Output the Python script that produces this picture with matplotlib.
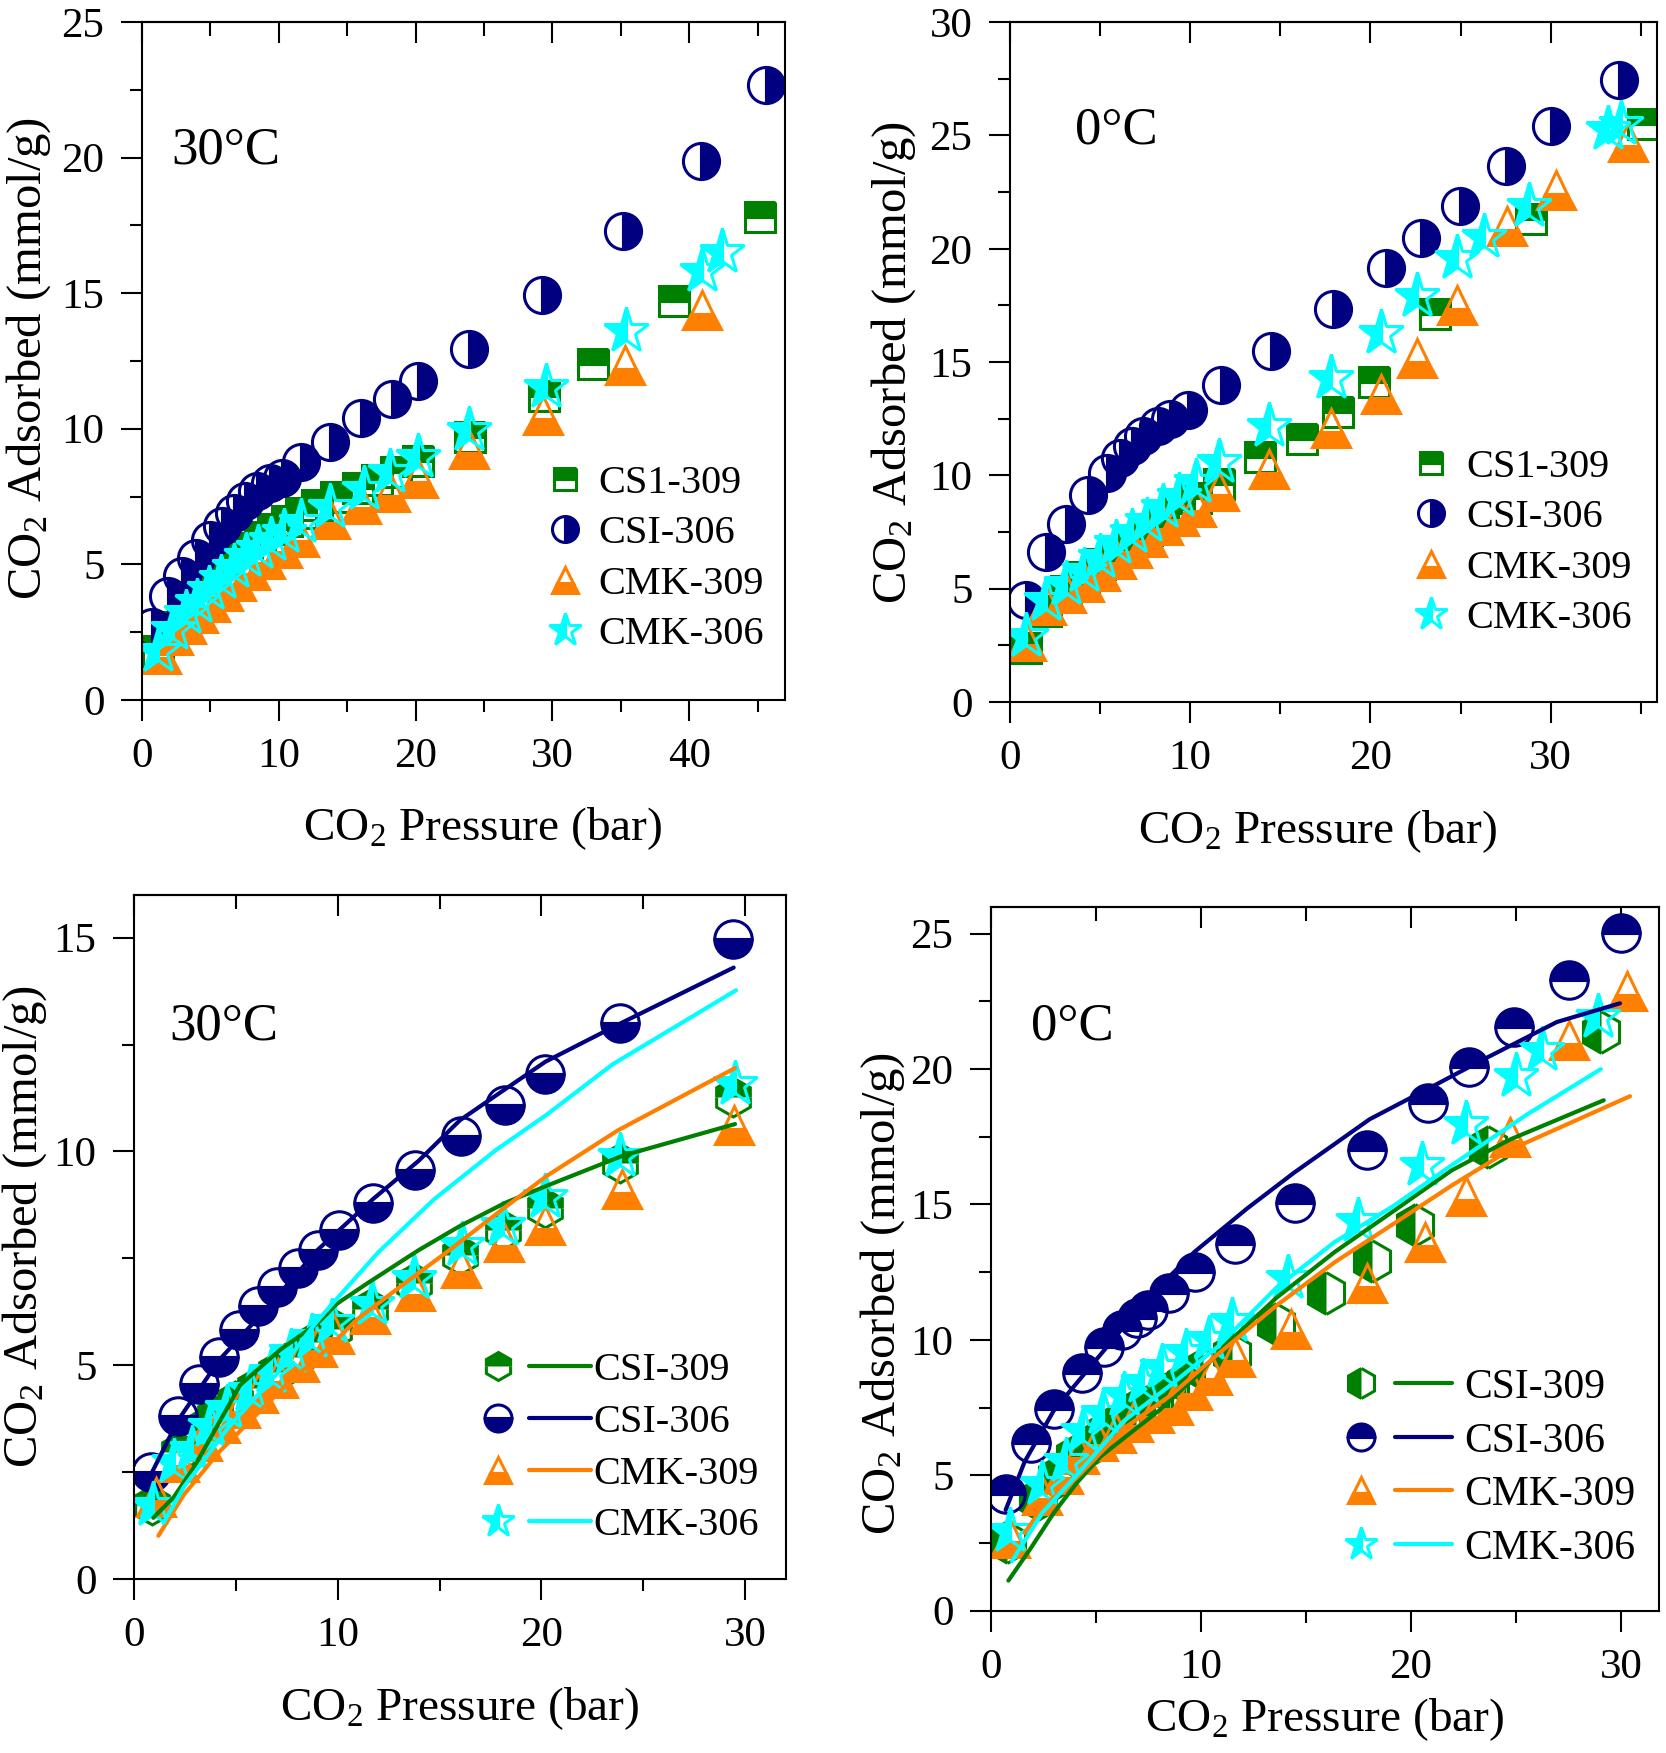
import numpy as np
import matplotlib.pyplot as plt
from matplotlib.ticker import MultipleLocator
from matplotlib.legend_handler import HandlerTuple

plt.rcParams['font.family'] = 'Liberation Serif'
plt.rcParams['mathtext.fontset'] = 'custom'
plt.rcParams['mathtext.rm'] = 'Liberation Serif'
plt.rcParams['mathtext.it'] = 'Liberation Serif:italic'

GREEN = '#008000'
NAVY = '#000080'
ORANGE = '#FF8000'
CYAN = '#00FFFF'

# ---- top left, 30 C ----
tl_cs309_x = [1.2, 2.2, 3.1, 4.0, 5.0, 5.9, 6.8, 7.7, 8.6, 9.6, 10.6, 11.6, 12.8, 14.2, 15.8, 17.2, 18.6, 20.2, 24.0, 29.4, 33.0, 38.9, 45.2]
tl_cs309_y = [1.8, 2.7, 3.2, 3.8, 4.3, 4.8, 5.2, 5.6, 6.0, 6.3, 6.6, 6.9, 7.2, 7.5, 7.8, 8.1, 8.4, 8.8, 9.7, 11.2, 12.4, 14.7, 17.8]
tl_csi306_x = [0.73, 1.92, 2.9, 3.95, 5.0, 5.88, 6.75, 7.52, 8.43, 9.38, 10.25, 11.65, 13.75, 16.03, 18.3, 20.16, 23.9, 29.26, 35.17, 40.87, 45.6]
tl_csi306_y = [2.68, 3.82, 4.56, 5.25, 5.88, 6.43, 6.91, 7.35, 7.71, 8.0, 8.2, 8.78, 9.52, 10.38, 11.11, 11.77, 12.95, 14.93, 17.28, 19.89, 22.66]
tl_cmk309_x = [1.4, 2.3, 3.2, 4.1, 5.0, 5.9, 6.9, 7.9, 9.0, 10.2, 11.5, 13.75, 16.0, 18.1, 20.16, 23.9, 29.3, 35.3, 40.9]
tl_cmk309_y = [1.7, 2.4, 2.8, 3.2, 3.6, 4.0, 4.4, 4.8, 5.2, 5.6, 6.0, 6.67, 7.22, 7.68, 8.19, 9.24, 10.5, 12.36, 14.38]
tl_cmk306_x = [1.2, 2.3, 3.2, 4.0, 4.9, 5.8, 6.7, 7.6, 8.5, 9.4, 10.4, 11.65, 13.75, 16.2, 18.1, 20.16, 23.9, 29.5, 35.4, 40.9, 42.4]
tl_cmk306_y = [1.8, 2.6, 3.2, 3.6, 4.1, 4.5, 4.9, 5.3, 5.6, 5.9, 6.2, 6.58, 7.13, 7.77, 8.41, 8.96, 9.97, 11.54, 13.6, 15.8, 16.5]

# ---- top right, 0 C ----
tr_cs309_x = [0.9, 2.0, 3.1, 4.1, 5.0, 5.9, 6.8, 7.6, 8.5, 9.4, 10.3, 11.6, 13.9, 16.2, 18.2, 20.2, 23.6, 28.9, 35.1]
tr_cs309_y = [2.4, 4.0, 4.9, 5.5, 6.1, 6.6, 7.1, 7.6, 8.0, 8.5, 9.0, 9.6, 10.8, 11.6, 12.8, 14.1, 17.1, 21.3, 25.5]
tr_csi306_x = [0.87, 1.98, 3.1, 4.34, 5.4, 6.1, 6.8, 7.4, 8.2, 8.9, 9.9, 11.7, 14.5, 17.93, 20.84, 22.83, 24.96, 27.5, 30.04, 33.8]
tr_csi306_y = [4.49, 6.61, 7.84, 9.13, 10.1, 10.75, 11.3, 11.75, 12.2, 12.5, 12.9, 14.0, 15.5, 17.33, 19.14, 20.46, 21.89, 23.67, 25.42, 27.45]
tr_cmk309_x = [0.9, 2.0, 3.1, 4.1, 5.0, 5.9, 6.8, 7.6, 8.5, 9.4, 10.3, 11.6, 14.4, 17.8, 20.6, 22.6, 24.8, 27.6, 30.3, 34.3]
tr_cmk309_y = [2.7, 4.3, 4.8, 5.3, 5.8, 6.3, 6.8, 7.3, 7.8, 8.2, 8.6, 9.3, 10.3, 12.1, 13.6, 15.2, 17.5, 21.0, 22.6, 24.7]
tr_cmk306_x = [0.9, 2.0, 3.1, 4.1, 5.0, 5.9, 6.8, 7.6, 8.5, 9.4, 10.3, 11.6, 14.4, 17.8, 20.6, 22.6, 24.8, 26.3, 28.8, 33.2, 33.9]
tr_cmk306_y = [2.9, 4.5, 5.2, 5.8, 6.4, 7.0, 7.5, 8.0, 8.6, 9.1, 9.7, 10.6, 12.2, 14.3, 16.3, 17.9, 19.6, 20.5, 21.9, 25.3, 25.5]

# ---- bottom left, 30 C with fits ----
bl_csi309_x = [0.9, 2.2, 3.08, 3.96, 4.96, 5.96, 6.96, 7.96, 8.84, 9.84, 11.6, 13.72, 15.98, 18.1, 20.19, 23.87, 29.4]
bl_csi309_y = [1.73, 2.98, 3.46, 3.82, 4.17, 4.47, 4.83, 5.19, 5.54, 5.84, 6.32, 6.92, 7.57, 8.17, 8.67, 9.72, 11.27]
bl_csi306_x = [0.83, 2.15, 3.2, 4.16, 5.16, 6.09, 7.04, 8.04, 9.02, 10.04, 11.72, 13.77, 16.05, 18.23, 20.19, 23.87, 29.38]
bl_csi306_y = [2.5, 3.82, 4.55, 5.19, 5.82, 6.38, 6.82, 7.27, 7.69, 8.17, 8.8, 9.56, 10.37, 11.09, 11.8, 13.0, 14.96]
bl_cmk309_x = [1.08, 2.2, 3.33, 4.2, 5.21, 6.09, 7.09, 8.09, 8.97, 9.84, 11.6, 13.77, 16.03, 18.16, 20.19, 23.94, 29.45]
bl_cmk309_y = [1.91, 2.74, 3.22, 3.64, 3.99, 4.35, 4.71, 5.07, 5.43, 5.72, 6.2, 6.74, 7.27, 7.87, 8.29, 9.12, 10.61]
bl_cmk306_x = [0.95, 1.95, 2.83, 3.71, 4.58, 5.71, 6.71, 7.71, 8.72, 9.72, 11.67, 13.72, 16.1, 18.1, 20.19, 23.87, 29.5]
bl_cmk306_y = [1.73, 2.74, 3.04, 3.58, 3.99, 4.41, 4.83, 5.31, 5.66, 6.02, 6.44, 7.03, 7.81, 8.29, 8.94, 9.9, 11.57]

bl_fit_csi309_x = [0.95, 1.95, 2.96, 5.2, 7.2, 8.97, 9.97, 11.47, 13.97, 15.98, 18.23, 20.49, 23.99, 29.5]
bl_fit_csi309_y = [1.43, 1.91, 2.62, 4.53, 5.37, 5.96, 6.44, 6.92, 7.69, 8.25, 8.8, 9.24, 9.9, 10.64]
bl_fit_csi306_x = [0.83, 2.15, 4.2, 6.5, 9.0, 11.72, 13.97, 16.0, 18.2, 20.2, 23.9, 29.43]
bl_fit_csi306_y = [2.44, 3.7, 5.13, 6.32, 7.69, 8.88, 9.78, 10.73, 11.45, 12.1, 13.0, 14.3]
bl_fit_cmk309_x = [1.2, 2.45, 4.2, 5.96, 7.46, 9.47, 10.97, 12.97, 15.48, 18.23, 20.24, 23.74, 29.5]
bl_fit_cmk309_y = [1.01, 1.97, 2.98, 3.82, 4.53, 5.37, 6.08, 6.8, 7.69, 8.7, 9.42, 10.49, 11.95]
bl_fit_cmk306_x = [1.45, 2.45, 4.7, 6.96, 8.97, 9.97, 11.97, 14.73, 17.73, 20.23, 23.5, 29.55]
bl_fit_cmk306_y = [1.31, 2.15, 3.58, 4.77, 6.02, 6.56, 7.63, 8.88, 10.02, 10.85, 12.04, 13.77]

# ---- bottom right, 0 C with fits ----
br_csi309_x = [0.78, 2.25, 3.14, 3.98, 4.81, 5.51, 6.26, 6.9, 7.74, 8.52, 9.27, 10.1, 11.49, 13.58, 15.95, 18.12, 20.18, 23.68, 29.06]
br_csi309_y = [2.55, 4.13, 4.94, 5.7, 6.17, 6.64, 7.02, 7.4, 7.68, 8.06, 8.43, 8.91, 9.47, 10.6, 11.74, 12.91, 14.23, 17.11, 21.36]
br_csi306_x = [0.7, 1.92, 3.0, 4.34, 5.4, 6.23, 6.96, 7.49, 8.46, 9.69, 11.6, 14.47, 17.92, 20.82, 22.77, 24.91, 27.5, 30.0]
br_csi306_y = [4.32, 6.21, 7.45, 8.79, 9.72, 10.38, 10.79, 11.11, 11.74, 12.49, 13.53, 15.04, 17.02, 18.75, 20.09, 21.55, 23.3, 25.04]
br_cmk309_x = [0.92, 2.45, 3.42, 4.2, 5.09, 5.93, 6.76, 7.74, 8.66, 9.55, 10.52, 11.63, 14.28, 17.9, 20.68, 22.63, 24.71, 27.5, 30.28]
br_cmk309_y = [2.68, 4.28, 5.04, 5.79, 6.26, 6.55, 6.96, 7.3, 7.58, 8.15, 8.72, 9.38, 10.42, 12.11, 13.62, 15.32, 17.49, 21.08, 22.87]
br_cmk306_x = [0.92, 2.45, 3.56, 4.4, 5.32, 6.35, 7.26, 8.15, 9.27, 10.38, 11.49, 14.14, 17.48, 20.54, 22.63, 24.99, 26.25, 28.89]
br_cmk306_y = [2.96, 4.66, 5.51, 6.64, 7.3, 7.96, 8.43, 9.0, 9.57, 10.04, 10.7, 12.3, 14.38, 16.45, 17.96, 19.75, 20.7, 21.92]

br_fit_csi309_x = [0.83, 1.89, 3.0, 4.12, 5.23, 6.62, 8.02, 9.69, 11.36, 13.58, 16.37, 19.15, 21.93, 24.71, 29.17]
br_fit_csi309_y = [1.11, 2.3, 3.62, 4.75, 5.7, 6.55, 7.4, 8.6, 9.95, 11.55, 13.25, 14.75, 16.26, 17.4, 18.85]
br_fit_csi306_x = [0.7, 1.61, 3.0, 5.23, 7.46, 9.69, 12.19, 14.42, 18.03, 20.82, 23.6, 26.94, 29.94]
br_fit_csi306_y = [3.72, 5.51, 7.4, 9.47, 11.55, 13.25, 14.85, 16.17, 18.15, 19.28, 20.42, 21.74, 22.43]
br_fit_cmk309_x = [1.61, 2.45, 4.12, 6.35, 8.57, 10.8, 13.58, 16.37, 19.15, 21.93, 24.71, 30.42]
br_fit_cmk309_y = [2.87, 3.81, 4.94, 6.74, 7.96, 9.47, 11.26, 12.87, 14.28, 15.7, 17.02, 19.0]
br_fit_cmk306_x = [1.0, 2.45, 4.12, 6.35, 8.57, 10.8, 13.58, 16.37, 19.15, 21.93, 25.55, 29.03]
br_fit_cmk306_y = [1.83, 3.62, 5.04, 7.02, 8.34, 9.75, 11.92, 13.62, 14.94, 16.45, 18.34, 20.0]

YLAB = 'CO$_2$ Adsorbed (mmol/g)'
XLAB = 'CO$_2$ Pressure (bar)'


def points(ax, x, y, marker, fill, color, size):
    h, = ax.plot(x, y, linestyle='none', marker=marker, fillstyle=fill,
                 markersize=size, markerfacecolor=color, markeredgecolor=color,
                 markeredgewidth=2.2)
    return h


def fitline(ax, x, y, color):
    h, = ax.plot(x, y, color=color, linewidth=3, solid_capstyle='round')
    return h


def style(ax, xlim, ylim, xlab_pos, ylab_pos):
    ax.set_xlim(xlim)
    ax.set_ylim(ylim)
    ax.xaxis.set_major_locator(MultipleLocator(10))
    ax.xaxis.set_minor_locator(MultipleLocator(5))
    ax.yaxis.set_major_locator(MultipleLocator(5))
    ax.yaxis.set_minor_locator(MultipleLocator(2.5))
    ax.tick_params(which='both', direction='out', width=1.5, labelsize=31, top=False, right=False)
    ax.tick_params(which='major', length=15, pad=12)
    ax.tick_params(which='minor', length=8.5)
    for s in ax.spines.values():
        s.set_linewidth(1.5)
    # inward ticks along the top
    sec = ax.secondary_xaxis('top')
    sec.xaxis.set_major_locator(MultipleLocator(10))
    sec.xaxis.set_minor_locator(MultipleLocator(5))
    sec.tick_params(which='both', direction='in', width=1.5, labeltop=False)
    sec.tick_params(which='major', length=15)
    sec.tick_params(which='minor', length=10)
    sec.spines['top'].set_linewidth(1.5)
    ax.set_xlabel(XLAB, fontsize=34, va='center')
    ax.set_ylabel(YLAB, fontsize=35, va='center')
    ax.xaxis.set_label_coords(*xlab_pos)
    ax.yaxis.set_label_coords(*ylab_pos)


fig = plt.figure(figsize=(16.66, 17.53), dpi=100)
ax1 = fig.add_axes([0.0852, 0.6007, 0.386, 0.3868])
ax2 = fig.add_axes([0.6062, 0.5995, 0.3884, 0.3879])
ax3 = fig.add_axes([0.0804, 0.0993, 0.3914, 0.3902])
ax4 = fig.add_axes([0.5948, 0.0812, 0.401, 0.4016])

# top left
h1 = points(ax1, tl_cs309_x, tl_cs309_y, 's', 'top', GREEN, 22)
h2 = points(ax1, tl_csi306_x, tl_csi306_y, 'o', 'right', NAVY, 26)
h3 = points(ax1, tl_cmk309_x, tl_cmk309_y, '^', 'bottom', ORANGE, 27)
h4 = points(ax1, tl_cmk306_x, tl_cmk306_y, '*', 'left', CYAN, 34)
style(ax1, (0, 47), (0, 25), (0.53, -0.19), (-0.177, 0.504))
ax1.text(0.045, 0.81, '30\u00b0C', transform=ax1.transAxes, fontsize=38, va='center')
ax1.legend([h1, h2, h3, h4], ['CS1-309', 'CSI-306', 'CMK-309', 'CMK-306'],
           loc='center left', bbox_to_anchor=(0.627, 0.208), frameon=False, fontsize=29,
           numpoints=1, markerscale=0.72, handlelength=1.0, handletextpad=0.33,
           labelspacing=0.33, borderpad=0, borderaxespad=0)

# top right
h1 = points(ax2, tr_cs309_x, tr_cs309_y, 's', 'top', GREEN, 22)
h2 = points(ax2, tr_csi306_x, tr_csi306_y, 'o', 'right', NAVY, 26)
h3 = points(ax2, tr_cmk309_x, tr_cmk309_y, '^', 'bottom', ORANGE, 27)
h4 = points(ax2, tr_cmk306_x, tr_cmk306_y, '*', 'left', CYAN, 34)
style(ax2, (0, 35.9), (0, 30), (0.475, -0.19), (-0.179, 0.50))
ax2.text(0.101, 0.84, '0\u00b0C', transform=ax2.transAxes, fontsize=38, va='center')
ax2.legend([h1, h2, h3, h4], ['CS1-309', 'CSI-306', 'CMK-309', 'CMK-306'],
           loc='center left', bbox_to_anchor=(0.62, 0.234), frameon=False, fontsize=29,
           numpoints=1, markerscale=0.72, handlelength=1.0, handletextpad=0.37,
           labelspacing=0.33, borderpad=0, borderaxespad=0)

# bottom left
m1 = points(ax3, bl_csi309_x, bl_csi309_y, 'h', 'top', GREEN, 28)
m2 = points(ax3, bl_csi306_x, bl_csi306_y, 'o', 'bottom', NAVY, 27)
m3 = points(ax3, bl_cmk309_x, bl_cmk309_y, '^', 'bottom', ORANGE, 27)
m4 = points(ax3, bl_cmk306_x, bl_cmk306_y, '*', 'left', CYAN, 34)
l1 = fitline(ax3, bl_fit_csi309_x, bl_fit_csi309_y, GREEN)
l2 = fitline(ax3, bl_fit_csi306_x, bl_fit_csi306_y, NAVY)
l3 = fitline(ax3, bl_fit_cmk309_x, bl_fit_cmk309_y, ORANGE)
l4 = fitline(ax3, bl_fit_cmk306_x, bl_fit_cmk306_y, CYAN)
style(ax3, (0, 32), (0, 16), (0.50, -0.19), (-0.167, 0.515))
ax3.text(0.055, 0.808, '30\u00b0C', transform=ax3.transAxes, fontsize=38, va='center')
ax3.legend([(m1, l1), (m2, l2), (m3, l3), (m4, l4)], ['CSI-309', 'CSI-306', 'CMK-309', 'CMK-306'],
           handler_map={tuple: HandlerTuple(ndivide=None, pad=0)},
           loc='center left', bbox_to_anchor=(0.51, 0.191), frameon=False, fontsize=29,
           numpoints=1, markerscale=0.72, handlelength=3.1, handletextpad=0.05,
           labelspacing=0.36, borderpad=0, borderaxespad=0)

# bottom right
m1 = points(ax4, br_csi309_x, br_csi309_y, 'h', 'left', GREEN, 30)
m2 = points(ax4, br_csi306_x, br_csi306_y, 'o', 'top', NAVY, 27)
m3 = points(ax4, br_cmk309_x, br_cmk309_y, '^', 'bottom', ORANGE, 27)
m4 = points(ax4, br_cmk306_x, br_cmk306_y, '*', 'left', CYAN, 34)
l1 = fitline(ax4, br_fit_csi309_x, br_fit_csi309_y, GREEN)
l2 = fitline(ax4, br_fit_csi306_x, br_fit_csi306_y, NAVY)
l3 = fitline(ax4, br_fit_cmk309_x, br_fit_cmk309_y, ORANGE)
l4 = fitline(ax4, br_fit_cmk306_x, br_fit_cmk306_y, CYAN)
style(ax4, (0, 31.8), (0, 26), (0.50, -0.155), (-0.162, 0.45))
ax4.text(0.06, 0.83, '0\u00b0C', transform=ax4.transAxes, fontsize=38, va='center')
ax4.legend([(m1, l1), (m2, l2), (m3, l3), (m4, l4)], ['CSI-309', 'CSI-306', 'CMK-309', 'CMK-306'],
           handler_map={tuple: HandlerTuple(ndivide=None, pad=0.12)},
           loc='center left', bbox_to_anchor=(0.51, 0.2026), frameon=False, fontsize=30,
           numpoints=1, markerscale=0.72, handlelength=2.9, handletextpad=0.29,
           labelspacing=0.36, borderpad=0, borderaxespad=0)

fig.savefig('out.png', dpi=100)
